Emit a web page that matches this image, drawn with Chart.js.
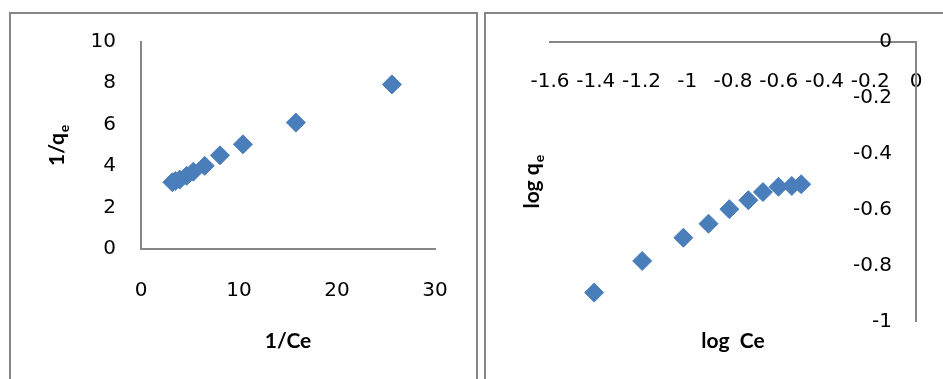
<!DOCTYPE html>
<html>
<head>
<meta charset="utf-8">
<script src="https://cdn.jsdelivr.net/npm/chart.js@4/dist/chart.umd.min.js"></script>
<style>
  html, body { margin: 0; padding: 0; background: #fff; overflow: hidden; }
  body { width: 943px; height: 379px; position: relative; }
  .frame { position: absolute; box-sizing: border-box; border: 2px solid #878787; background: #fff; }
  #frameA { left: 9px; top: 12px; width: 469px; height: 420px; }
  #frameB { left: 484px; top: 12px; width: 480px; height: 420px; }
  canvas { position: absolute; }
  #chartA { left: 11px; top: 14px; }
  #chartB { left: 486px; top: 14px; }
</style>
</head>
<body>
<div class="frame" id="frameA"></div>
<div class="frame" id="frameB"></div>
<canvas id="chartA" width="465" height="365"></canvas>
<canvas id="chartB" width="457" height="365"></canvas>
<script>
// Langmuir linear form: 1/qe against 1/Ce
const invCe = [25.6, 15.8, 10.4, 8.06, 6.5, 5.34, 4.66, 3.95, 3.5, 3.2];
const invQe = [7.94, 6.1, 5.05, 4.52, 4.01, 3.73, 3.53, 3.35, 3.28, 3.22];

// Freundlich linear form: log qe against log Ce
const logCe = [-1.407, -1.197, -1.017, -0.907, -0.816, -0.733, -0.669, -0.601, -0.543, -0.502];
const logQe = [-0.896, -0.783, -0.700, -0.650, -0.598, -0.566, -0.537, -0.518, -0.515, -0.509];

// Tick values for each axis
const ticksInvCe = [0, 10, 20, 30];
const ticksInvQe = [0, 2, 4, 6, 8, 10];
const ticksLogCe = [-1.6, -1.4, -1.2, -1, -0.8, -0.6, -0.4, -0.2, 0];
const ticksLogQe = [-1, -0.8, -0.6, -0.4, -0.2, 0];

// Axis titles: [main text, subscript]
const titleA_x = ['1/Ce', ''];
const titleA_y = ['1/q', 'e'];
const titleB_x = ['log  Ce', ''];
const titleB_y = ['log q', 'e'];

const TICK_FONT = "'DejaVu Sans', 'Liberation Sans', sans-serif";
const TITLE_FONT = "Lato, 'Open Sans', sans-serif";
const AXIS = '#878787';
const MARK = '#4A7EBB';

function fmt(v) {
  return String(Number(Number(v).toFixed(2)));
}

function fixedTicks(values) {
  return function (scale) {
    scale.ticks = values.map(v => ({ value: v }));
  };
}

// Draws bold axis titles with an optional subscript part
const axisTitles = {
  id: 'axisTitles',
  afterDraw(chart, args, opts) {
    const { ctx, chartArea } = chart;
    const main = 'bold 21px ' + TITLE_FONT;
    const sub = 'bold 14px ' + TITLE_FONT;
    function drawParts(parts, cx, baseY) {
      ctx.font = main;
      const w1 = ctx.measureText(parts[0]).width;
      ctx.font = sub;
      const w2 = parts[1] ? ctx.measureText(parts[1]).width + 1 : 0;
      const start = cx - (w1 + w2) / 2;
      ctx.font = main;
      ctx.fillText(parts[0], start, baseY);
      if (parts[1]) {
        ctx.font = sub;
        ctx.fillText(parts[1], start + w1 + 1, baseY + 5);
      }
    }
    ctx.save();
    ctx.fillStyle = '#000';
    ctx.textAlign = 'left';
    ctx.textBaseline = 'alphabetic';
    drawParts(opts.x, (chartArea.left + chartArea.right) / 2, opts.xBaseline);
    ctx.translate(opts.yBaseline, (chartArea.top + chartArea.bottom) / 2);
    ctx.rotate(-Math.PI / 2);
    drawParts(opts.y, 0, 0);
    ctx.restore();
  }
};

function dataset(xs, ys) {
  return {
    data: xs.map((x, i) => ({ x: x, y: ys[i] })),
    pointStyle: 'rectRot',
    pointRadius: 9.5,
    pointHoverRadius: 9.5,
    backgroundColor: MARK,
    borderColor: MARK,
    borderWidth: 1,
    showLine: false
  };
}

const tickFont = { family: TICK_FONT, size: 20 };

new Chart(document.getElementById('chartA'), {
  type: 'scatter',
  data: { datasets: [dataset(invCe, invQe)] },
  plugins: [axisTitles],
  options: {
    responsive: false,
    animation: false,
    events: [],
    layout: { padding: { left: 0, top: 27.7, right: 41, bottom: 0 } },
    plugins: {
      legend: { display: false },
      tooltip: { enabled: false },
      axisTitles: { x: titleA_x, y: titleA_y, xBaseline: 334, yBaseline: 53 }
    },
    scales: {
      x: {
        type: 'linear', min: 0, max: 30,
        afterBuildTicks: fixedTicks(ticksInvCe),
        afterFit(s) { s.height = 130; },
        grid: { display: false, drawTicks: true, tickLength: 30 },
        border: { display: true, color: AXIS, width: 2 },
        ticks: { font: tickFont, color: '#000', padding: 0, maxRotation: 0, autoSkip: false, callback: fmt }
      },
      y: {
        type: 'linear', min: 0, max: 10,
        afterBuildTicks: fixedTicks(ticksInvQe),
        afterFit(s) { s.width = 130; },
        grid: { display: false, drawTicks: true, tickLength: 25 },
        border: { display: true, color: AXIS, width: 2 },
        ticks: { font: tickFont, color: '#000', padding: 0, autoSkip: false, callback: fmt }
      }
    }
  }
});

new Chart(document.getElementById('chartB'), {
  type: 'scatter',
  data: { datasets: [dataset(logCe, logQe)] },
  plugins: [axisTitles],
  options: {
    responsive: false,
    animation: false,
    events: [],
    layout: { padding: { left: 64, top: 27.7, right: 27, bottom: 57.3 } },
    plugins: {
      legend: { display: false },
      tooltip: { enabled: false },
      axisTitles: { x: titleB_x, y: titleB_y, xBaseline: 334, yBaseline: 53 }
    },
    scales: {
      x: {
        type: 'linear', min: -1.6, max: 0,
        position: { y: 0 },
        afterBuildTicks: fixedTicks(ticksLogCe),
        grid: { display: false, drawTicks: true, tickLength: 28 },
        border: { display: true, color: AXIS, width: 2 },
        ticks: { font: tickFont, color: '#000', padding: 0, maxRotation: 0, autoSkip: false, callback: fmt }
      },
      y: {
        type: 'linear', min: -1, max: 0,
        position: 'right',
        afterBuildTicks: fixedTicks(ticksLogQe),
        afterFit(s) { s.width = 0; },
        grid: { display: false, drawTicks: false },
        border: { display: true, color: AXIS, width: 2 },
        ticks: { font: tickFont, color: '#000', mirror: true, padding: -24, autoSkip: false, callback: fmt }
      }
    }
  }
});
</script>
</body>
</html>
